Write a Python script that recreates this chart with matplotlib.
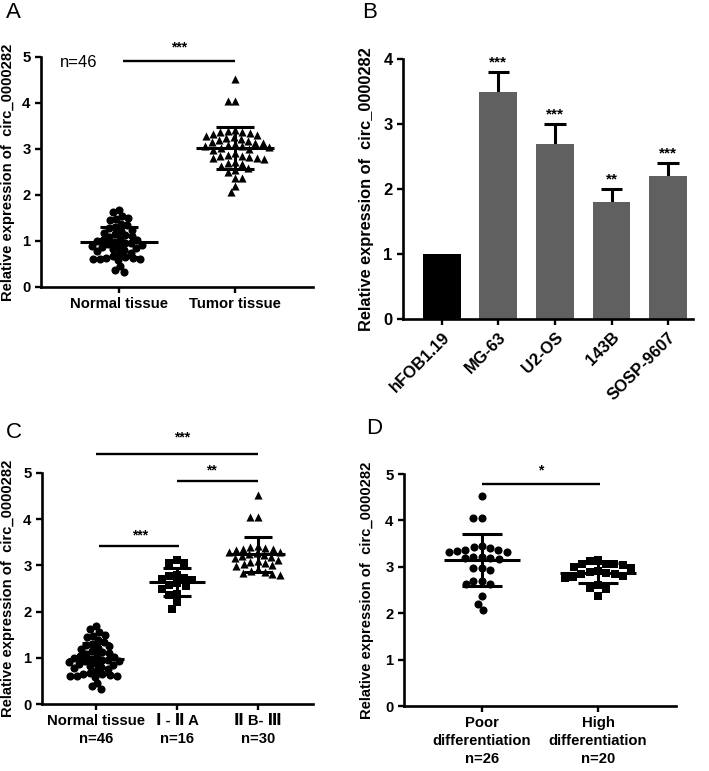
import numpy as np
import matplotlib
matplotlib.use("Agg")
import matplotlib.pyplot as plt

plt.rcParams['font.family'] = ['Liberation Sans', 'DejaVu Sans']

# ---------------- data ----------------
normal_tissue = [1.68, 1.62, 1.55, 1.50, 1.48, 1.45, 1.38, 1.35, 1.30, 1.28,
                 1.25, 1.22, 1.18, 1.15, 1.12, 1.10, 1.08, 1.05, 1.03, 1.02,
                 1.00, 0.98, 0.96, 0.95, 0.93, 0.92, 0.90, 0.88, 0.86, 0.85,
                 0.83, 0.80, 0.78, 0.75, 0.72, 0.68, 0.65, 0.64, 0.62, 0.61,
                 0.60, 0.60, 0.58, 0.45, 0.38, 0.33]
stage_I_IIA = [3.12, 3.06, 3.06, 2.80, 2.78, 2.72, 2.70, 2.68, 2.62, 2.58,
               2.55, 2.49, 2.38, 2.36, 2.20, 2.06]
stage_IIB_III = [4.53, 4.05, 4.05, 3.42, 3.40, 3.38, 3.36, 3.35, 3.33, 3.30,
                 3.28, 3.26, 3.24, 3.22, 3.20, 3.18, 3.15, 3.12, 3.10, 3.08,
                 3.05, 3.02, 3.00, 2.98, 2.92, 2.88, 2.85, 2.84, 2.82, 2.80]
tumor_tissue = stage_I_IIA + stage_IIB_III

poor_diff = [4.53, 4.05, 4.05, 3.31, 3.33, 3.37, 3.40, 3.45, 3.43, 3.36,
             3.32, 3.22, 3.20, 3.18, 3.16, 3.21, 2.97, 2.98, 2.94, 2.70,
             2.69, 2.63, 2.62, 2.36, 2.20, 2.06]
high_diff = [3.07, 3.06, 3.05, 3.04, 3.14, 3.12, 3.00, 2.98, 2.92, 2.88,
             2.87, 2.85, 2.84, 2.80, 2.78, 2.76, 2.55, 2.52, 2.60, 2.38]

cell_lines = ['hFOB1.19', 'MG-63', 'U2-OS', '143B', 'SOSP-9607']
cell_expr = [1.0, 3.5, 2.7, 1.8, 2.2]
cell_err = [0.0, 0.3, 0.3, 0.2, 0.2]
cell_sig = ['', '***', '***', '**', '***']

# ---------------- figure ----------------
W, H = 709, 771
fig = plt.figure(figsize=(W / 100, H / 100), dpi=100)


def px_axes(l, r, t, b):
    return fig.add_axes([l / W, 1 - b / H, (r - l) / W, (b - t) / H])


def style(ax, fs=10.7):
    for s in ['top', 'right']:
        ax.spines[s].set_visible(False)
    for s in ['left', 'bottom']:
        ax.spines[s].set_linewidth(1.9)
    ax.tick_params(width=1.7, length=4.5, labelsize=fs, direction='out', pad=3)
    for lab in ax.get_yticklabels() + ax.get_xticklabels():
        lab.set_fontweight('bold')


def swarm(ax, xc, vals, d):
    vals = np.asarray(vals, float)
    order = np.argsort(-vals)
    pts = ax.transData.transform(np.column_stack([np.full(len(vals), xc), vals]))
    ypx = pts[:, 1]
    ppu = ax.transData.transform((1, 0))[0] - ax.transData.transform((0, 0))[0]
    placed = []
    offs = np.zeros(len(vals))
    for i in order:
        y = ypx[i]
        forb = []
        for (px, py) in placed:
            dy = abs(py - y)
            if dy < d:
                w = np.sqrt(d * d - dy * dy)
                forb.append((px - w, px + w))
        cands = [0.0] + [e for f in forb for e in f]
        cands.sort(key=lambda c: (abs(c), c))
        for c in cands:
            if all(not (f[0] + 1e-6 < c < f[1] - 1e-6) for f in forb):
                break
        placed.append((c, y))
        offs[i] = c / ppu
    return xc + offs


def scatter_group(ax, xc, vals, marker, ms, d, half_mean=0.33, half_sd=0.16):
    xs = swarm(ax, xc, vals, d)
    ax.scatter(xs, vals, marker=marker, s=ms, color='black', linewidths=0,
               zorder=3, clip_on=False)
    m = np.mean(vals)
    sd = np.std(vals, ddof=1)
    ax.hlines(m, xc - half_mean, xc + half_mean, color='black', lw=2.2, zorder=4)
    ax.hlines([m - sd, m + sd], xc - half_sd, xc + half_sd, color='black', lw=2.2, zorder=4)
    ax.vlines(xc, m - sd, m + sd, color='black', lw=2.2, zorder=4)


def sig(ax, x0, x1, y, ys, xs, text, fs=10):
    ax.plot([x0, x1], [y, y], color='black', lw=1.7, clip_on=False,
            solid_capstyle='butt')
    ax.text(xs, ys, text, ha='center', va='center', fontsize=fs,
            fontweight='bold', clip_on=False)


ylab = 'Relative expression of  circ_0000282'

# ---------------- Panel A ----------------
axA = px_axes(41, 313, 57, 287)
axA.set_ylim(0, 5)
axA.set_xlim(-0.672, 1.672)
axA.set_yticks(range(6))
axA.set_xticks([0, 1])
axA.set_xticklabels(['Normal tissue', 'Tumor tissue'])
style(axA)
scatter_group(axA, 0, normal_tissue, 'o', 34, 6.6, 0.34, 0.16)
scatter_group(axA, 1, tumor_tissue, '^', 34, 7.5, 0.34, 0.16)
sig(axA, 0.035, 1.0, 4.91, 5.2, 0.52, '***')
axA.text(-0.35, 4.87, 'n=46', fontsize=12, ha='center', va='center')
axA.set_ylabel(ylab, fontsize=10.6, fontweight='bold')
axA.yaxis.set_label_coords(-0.095, 0.5)

# ---------------- Panel B ----------------
axB = px_axes(403, 693, 59, 319)
axB.set_ylim(0, 4)
axB.set_xlim(-0.684, 4.44)
xb = np.arange(len(cell_lines))
colors = ['black'] + ['#606060'] * (len(cell_lines) - 1)
axB.bar(xb, cell_expr, width=0.67, color=colors, zorder=2)
for i in range(len(cell_lines)):
    if cell_err[i] > 0:
        top = cell_expr[i] + cell_err[i]
        axB.vlines(xb[i], cell_expr[i], top, color='black', lw=2.2, zorder=1)
        axB.hlines(top, xb[i] - 0.19, xb[i] + 0.19, color='black', lw=2.2, zorder=1)
        axB.text(xb[i], top + 0.15, cell_sig[i],
                 ha='center', va='center', fontsize=11, fontweight='bold')
axB.set_yticks(range(5))
axB.set_xticks(xb)
axB.set_xticklabels(cell_lines, rotation=45, ha='right', rotation_mode='anchor')
style(axB, fs=12)
axB.set_ylabel(ylab, fontsize=11.8, fontweight='bold')
axB.yaxis.set_label_coords(-0.10, 0.5)

# ---------------- Panel C ----------------
axC = px_axes(42, 313, 473, 704)
axC.set_ylim(0, 5)
axC.set_xlim(-0.667, 2.68)
axC.set_yticks(range(6))
axC.set_xticks([0, 1, 2])
axC.set_xticklabels(['Normal tissue\nn=46', 'Ⅰ - Ⅱ A\nn=16', 'Ⅱ B- Ⅲ\nn=30'],
                    linespacing=1.35)
style(axC)
scatter_group(axC, 0, normal_tissue, 'o', 34, 6.6, 0.34, 0.17)
scatter_group(axC, 1, stage_I_IIA, 's', 30, 8.0, 0.34, 0.17)
scatter_group(axC, 2, stage_IIB_III, '^', 34, 7.5, 0.34, 0.17)
sig(axC, 0.0, 2.0, 5.41, 5.76, 1.06, '***')
sig(axC, 1.0, 2.0, 4.83, 5.06, 1.43, '**')
sig(axC, 0.04, 1.03, 3.42, 3.64, 0.54, '***')
axC.set_ylabel(ylab, fontsize=10.6, fontweight='bold')
axC.yaxis.set_label_coords(-0.10, 0.5)

# ---------------- Panel D ----------------
axD = px_axes(404, 676, 474, 706)
axD.set_ylim(0, 5)
axD.set_xlim(-0.672, 1.672)
axD.set_yticks(range(6))
axD.set_xticks([0, 1])
axD.set_xticklabels(['Poor\ndifferentiation\nn=26', 'High\ndifferentiation\nn=20'],
                    linespacing=1.35)
style(axD)
scatter_group(axD, 0, poor_diff, 'o', 34, 8.5, 0.33, 0.17)
scatter_group(axD, 1, high_diff, 's', 30, 8.5, 0.33, 0.17)
sig(axD, 0.0, 1.02, 4.78, 5.08, 0.51, '*')
axD.set_ylabel(ylab, fontsize=10.6, fontweight='bold')
axD.yaxis.set_label_coords(-0.11, 0.5)

# panel letters
for lab, x, y in [('A', 6, 13), ('B', 362, 13), ('C', 6, 433), ('D', 366, 428)]:
    fig.text(x / W, 1 - y / H, lab, fontsize=16, ha='left', va='center')

fig.savefig('out.png', dpi=100)
